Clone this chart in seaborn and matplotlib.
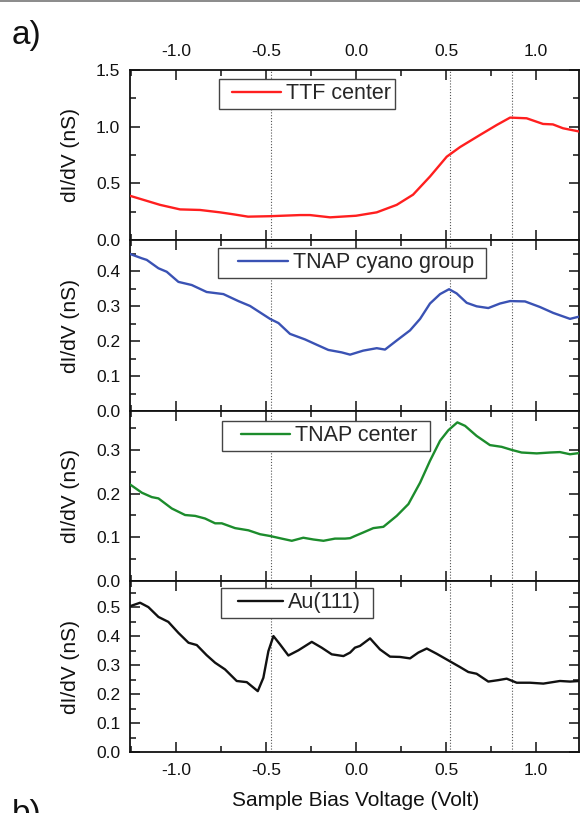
import numpy as np
import pandas as pd
import matplotlib
matplotlib.use("Agg")
import matplotlib.pyplot as plt
import seaborn as sns
from matplotlib.ticker import MultipleLocator, FormatStrFormatter
from matplotlib.legend_handler import HandlerLine2D
from matplotlib.lines import Line2D
from matplotlib.offsetbox import DrawingArea

# Tunneling spectra (dI/dV) vs sample bias for four tip positions
ttf_bias = [-1.256, -1.089, -0.978, -0.867, -0.756, -0.683, -0.600, -0.478, -0.311, -0.256,
            -0.144, 0.000, 0.115, 0.226, 0.317, 0.411, 0.504, 0.578, 0.689, 0.782,
            0.856, 0.948, 1.039, 1.094, 1.150, 1.244]
ttf_didv = [0.39, 0.31, 0.27, 0.265, 0.244, 0.227, 0.206, 0.21, 0.22, 0.22,
            0.20, 0.214, 0.244, 0.31, 0.40, 0.56, 0.735, 0.82, 0.927, 1.015,
            1.08, 1.074, 1.024, 1.02, 0.986, 0.956]

cyano_bias = [-1.256, -1.19, -1.163, -1.098, -1.052, -0.987, -0.913, -0.83, -0.737, -0.654,
              -0.589, -0.478, -0.431, -0.367, -0.283, -0.219, -0.154, -0.08, -0.033, 0.04,
              0.115, 0.161, 0.226, 0.3, 0.356, 0.411, 0.467, 0.517, 0.559, 0.615,
              0.67, 0.735, 0.8, 0.856, 0.939, 1.022, 1.096, 1.189, 1.244]
cyano_didv = [0.45, 0.4375, 0.433, 0.409, 0.399, 0.37, 0.361, 0.341, 0.335, 0.315,
              0.301, 0.264, 0.252, 0.221, 0.205, 0.19, 0.175, 0.168, 0.1615, 0.173,
              0.18, 0.176, 0.202, 0.231, 0.264, 0.308, 0.335, 0.349, 0.337, 0.31,
              0.30, 0.295, 0.308, 0.315, 0.314, 0.298, 0.281, 0.264, 0.271]

tnap_bias = [-1.256, -1.19, -1.135, -1.098, -1.024, -0.95, -0.894, -0.839, -0.783, -0.746,
             -0.672, -0.598, -0.533, -0.478, -0.413, -0.357, -0.293, -0.237, -0.181, -0.117,
             -0.061, -0.033, -0.006, 0.04, 0.096, 0.152, 0.226, 0.291, 0.356, 0.411,
             0.467, 0.513, 0.563, 0.606, 0.67, 0.744, 0.809, 0.865, 0.92, 1.004,
             1.078, 1.133, 1.189, 1.244]
tnap_didv = [0.221, 0.202, 0.192, 0.189, 0.166, 0.151, 0.149, 0.143, 0.132, 0.132,
             0.121, 0.116, 0.107, 0.103, 0.097, 0.092, 0.099, 0.095, 0.092, 0.097,
             0.097, 0.098, 0.103, 0.111, 0.121, 0.124, 0.149, 0.176, 0.225, 0.275,
             0.321, 0.345, 0.363, 0.355, 0.332, 0.311, 0.307, 0.30, 0.294, 0.292,
             0.294, 0.295, 0.29, 0.293]

au_bias = [-1.256, -1.2, -1.154, -1.098, -1.043, -0.987, -0.931, -0.885, -0.83, -0.783,
           -0.728, -0.663, -0.607, -0.546, -0.515, -0.487, -0.459, -0.422, -0.376, -0.32,
           -0.246, -0.191, -0.135, -0.07, -0.033, -0.006, 0.022, 0.078, 0.133, 0.189,
           0.244, 0.30, 0.346, 0.393, 0.448, 0.513, 0.578, 0.624, 0.67, 0.735,
           0.791, 0.837, 0.893, 0.967, 1.041, 1.133, 1.189, 1.244]
au_didv = [0.503, 0.515, 0.50, 0.466, 0.449, 0.411, 0.377, 0.369, 0.334, 0.308,
           0.285, 0.245, 0.241, 0.21, 0.256, 0.348, 0.40, 0.371, 0.333, 0.351,
           0.38, 0.36, 0.337, 0.331, 0.343, 0.36, 0.366, 0.392, 0.354, 0.329,
           0.328, 0.323, 0.343, 0.357, 0.339, 0.316, 0.293, 0.276, 0.27, 0.243,
           0.248, 0.253, 0.239, 0.239, 0.236, 0.245, 0.243, 0.245]

series_names = ["TTF center", "TNAP cyano group", "TNAP center", "Au(111)"]
series_colors = ["#ff1f1f", "#3a52b4", "#1c8c2c", "#111111"]
series_bias = [ttf_bias, cyano_bias, tnap_bias, au_bias]
series_didv = [ttf_didv, cyano_didv, tnap_didv, au_didv]
y_max = [1.5, 0.49, 0.389, 0.59]
y_major = [0.5, 0.1, 0.1, 0.1]
marker_bias = [-0.475, 0.52, 0.865]
x_ticks = [-1.0, -0.5, 0.0, 0.5, 1.0]

sns.set_theme(style="ticks")
plt.rcParams['font.family'] = ['Liberation Sans', 'DejaVu Sans']
plt.rcParams['axes.unicode_minus'] = False


class PaddedLineHandler(HandlerLine2D):
    """Legend line that leaves a gap on its left side."""
    def __init__(self, lpad, **kw):
        super().__init__(**kw)
        self.lpad = lpad

    def get_xdata(self, legend, xdescent, ydescent, width, height, fontsize):
        xdata = np.array([-xdescent + self.lpad * fontsize, -xdescent + width])
        return xdata, xdata


fig = plt.figure(figsize=(5.8, 8.13), dpi=100)
W_PX, H_PX = 580, 813
ax_left, ax_right = 130, 579
panel_edges = [70, 240, 411, 581, 752]

# legend box placement (top-left corner, px) and inner spacing per panel
legend_pos = [(219, 79), (218, 248), (221.5, 421), (220.7, 588)]
legend_lpad = [0.40, 0.73, 0.70, 0.62]
legend_hlen = [2.68, 3.05, 2.97, 2.69]
legend_rpad = [0.0, 1.8, 2.5, 1.8]   # extra room after the label, points

for i in range(4):
    top, bottom = panel_edges[i], panel_edges[i + 1]
    panel_h = bottom - top
    ax = fig.add_axes([ax_left / W_PX, 1 - bottom / H_PX,
                       (ax_right - ax_left) / W_PX, panel_h / H_PX])
    df = pd.DataFrame({"bias": series_bias[i], "didv": series_didv[i]})
    sns.lineplot(data=df, x="bias", y="didv", ax=ax, color=series_colors[i],
                 lw=1.7, label=series_names[i], estimator=None, sort=False, zorder=3)
    for xv in marker_bias:
        ax.axvline(xv, color="#555555", ls=(0, (1, 1.6)), lw=0.8, zorder=1)

    ax.set_xlim(-1.256, 1.239)
    ax.set_ylim(0, y_max[i])
    ax.set_xticks(x_ticks)
    ax.xaxis.set_minor_locator(MultipleLocator(0.25))
    ax.yaxis.set_major_locator(MultipleLocator(y_major[i]))
    ax.yaxis.set_minor_locator(MultipleLocator(y_major[i] / 2))
    ax.xaxis.set_major_formatter(FormatStrFormatter("%.1f"))
    ax.yaxis.set_major_formatter(FormatStrFormatter("%.1f"))

    ax.tick_params(which="both", direction="in", top=True, right=True,
                   bottom=True, left=True, width=1.1, color="#111111")
    ax.tick_params(which="major", length=7)
    ax.tick_params(which="minor", length=4.5)
    ax.tick_params(axis="y", labelsize=12.5, pad=7, labelcolor="#111111")
    ax.tick_params(axis="x", labelsize=12.5, pad=8, labelcolor="#111111",
                   labelbottom=(i == 3), labeltop=(i == 0))
    for sp in ax.spines.values():
        sp.set_linewidth(1.3)
        sp.set_color("#111111")

    ax.set_ylabel("dI/dV (nS)", fontsize=15, color="#111111")
    ax.yaxis.set_label_coords(-0.111, 0.5)
    if i == 3:
        ax.set_xlabel("Sample Bias Voltage (Volt)", fontsize=15, color="#111111")
        ax.xaxis.set_label_coords(0.502, -0.229)
    else:
        ax.set_xlabel("")

    lx, ly = legend_pos[i]
    handles, labels = ax.get_legend_handles_labels()
    leg = ax.legend(handles, labels, loc="upper left",
                    bbox_to_anchor=((lx - ax_left) / (ax_right - ax_left),
                                    1 - (ly - top) / panel_h),
                    borderaxespad=0, frameon=True, fancybox=False,
                    edgecolor="#444444", framealpha=1, fontsize=15.5,
                    handlelength=legend_hlen[i], handletextpad=0.24, borderpad=0.2,
                    handler_map={Line2D: PaddedLineHandler(legend_lpad[i])})
    leg.get_frame().set_linewidth(1.0)
    if legend_rpad[i] > 0:
        # widen the box on the right of the label
        for column in leg._legend_handle_box.get_children():
            for item in column.get_children():
                item._children.append(DrawingArea(legend_rpad[i], 0))

fig.text(12 / W_PX, 1 - 20 / H_PX, "a)", fontsize=24, va="top", ha="left", color="#111111")
fig.text(12 / W_PX, 1 - 799 / H_PX, "b)", fontsize=24, va="top", ha="left", color="#111111")
fig.add_artist(Line2D([0, 1], [1 - 0.8 / H_PX] * 2, transform=fig.transFigure,
                      color="#777777", lw=1.2))

fig.savefig("out.png", dpi=100)
